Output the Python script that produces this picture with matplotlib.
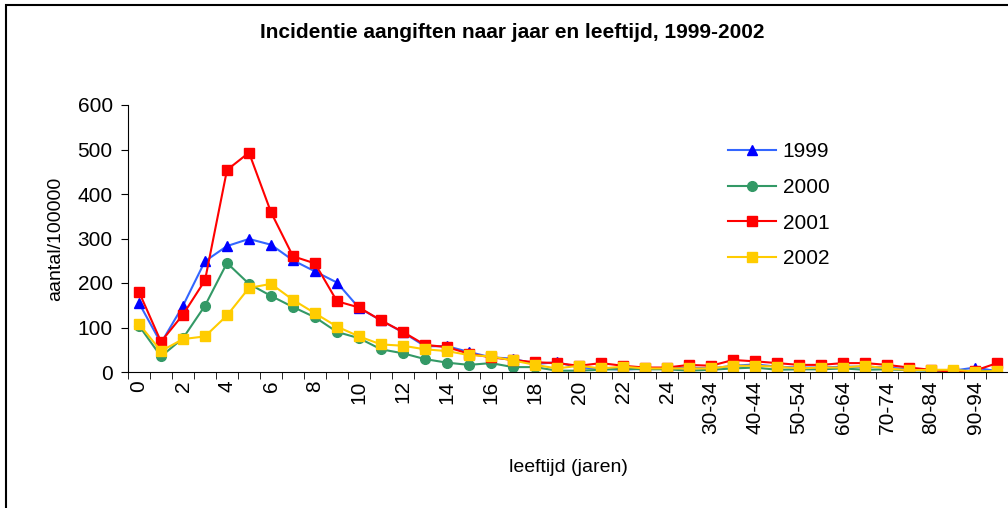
import matplotlib
matplotlib.use("Agg")
import matplotlib.pyplot as plt
from matplotlib.patches import Rectangle
import numpy as np

plt.rcParams["font.family"] = ["Liberation Sans", "DejaVu Sans"]

# leeftijdscategorieën
leeftijd = [str(i) for i in range(25)] + [
    "25-29", "30-34", "35-39", "40-44", "45-49", "50-54", "55-59",
    "60-64", "65-69", "70-74", "75-79", "80-84", "85-89", "90-94", "95+"]

# incidentie per 100000
inc_1999 = [155, 65, 149, 249, 283, 299, 286, 251, 226, 201, 144, 116, 89, 58, 58,
            45, 33, 30, 18, 22, 10, 8, 5, 8, 8, 10, 8, 14, 17, 12, 10, 10, 12, 12,
            10, 6, 4, 3, 10, 2]
inc_2000 = [104, 35, 76, 149, 245, 198, 171, 146, 123, 90, 76, 51, 42, 29, 21,
            16, 20, 11, 11, 3, 3, 5, 7, 6, 6, 3, 5, 8, 10, 5, 6, 6, 8, 5,
            6, 4, 3, 3, 2, 2]
inc_2001 = [180, 68, 129, 206, 454, 493, 359, 260, 244, 159, 145, 116, 90, 61, 56,
            41, 33, 27, 22, 20, 14, 20, 14, 10, 10, 16, 14, 27, 24, 20, 16, 16, 20, 20,
            16, 10, 5, 0, 3, 20]
inc_2002 = [108, 47, 74, 80, 127, 189, 198, 162, 132, 102, 80, 62, 59, 51, 47,
            38, 35, 26, 16, 8, 14, 8, 12, 8, 8, 8, 8, 14, 14, 12, 8, 10, 10, 14,
            8, 4, 5, 5, 1, 2]

x = np.arange(len(leeftijd))

fig = plt.figure(figsize=(10.08, 5.08), dpi=100)
ax = fig.add_axes([128 / 1008, 1 - 372 / 508, 880 / 1008, (372 - 105) / 508])

ax.plot(x, inc_1999, color="#3366FF", lw=1.5, marker="^", ms=7.5,
        mfc="#0000FF", mec="#0000FF", label="1999")
ax.plot(x, inc_2000, color="#339966", lw=1.5, marker="o", ms=7,
        mfc="#339966", mec="#339966", label="2000")
ax.plot(x, inc_2001, color="#FF0000", lw=1.5, marker="s", ms=7,
        mfc="#FF0000", mec="#FF0000", label="2001")
ax.plot(x, inc_2002, color="#FFCC00", lw=1.5, marker="s", ms=7,
        mfc="#FFCC00", mec="#FFCC00", label="2002")

ax.set_ylim(0, 600)
ax.set_xlim(-0.5, 39.4)
ax.set_yticks(range(0, 601, 100))
ax.tick_params(axis="y", direction="out", length=5, labelsize=15, pad=6)

ax.set_xticks(x)
ax.set_xticklabels([lab if i % 2 == 0 else "" for i, lab in enumerate(leeftijd)],
                   rotation=90, fontsize=15)
ax.tick_params(axis="x", which="major", length=0, pad=6)
ax.set_xticks(np.arange(-0.5, len(leeftijd), 1), minor=True)
ax.tick_params(axis="x", which="minor", direction="out", length=5)

for s in ["top", "right"]:
    ax.spines[s].set_visible(False)

ax.set_xlabel("leeftijd (jaren)", fontsize=14, labelpad=18)
ax.set_ylabel("aantal/100000", fontsize=14, labelpad=10)

ax.legend(loc="upper left", bbox_to_anchor=(0.661, 0.93), frameon=False,
          fontsize=15, handlelength=2.3, labelspacing=0.8, handletextpad=0.3)

fig.text(0.508, 1 - 33 / 508, "Incidentie aangiften naar jaar en leeftijd, 1999-2002",
         ha="center", va="center", fontsize=15, fontweight="bold")

fig.patches.append(Rectangle((6 / 1008, -0.1), 1.2, 1.1 - 5 / 508,
                             transform=fig.transFigure, fill=False,
                             lw=1.5, ec="black"))

fig.savefig("out.png", dpi=100)
